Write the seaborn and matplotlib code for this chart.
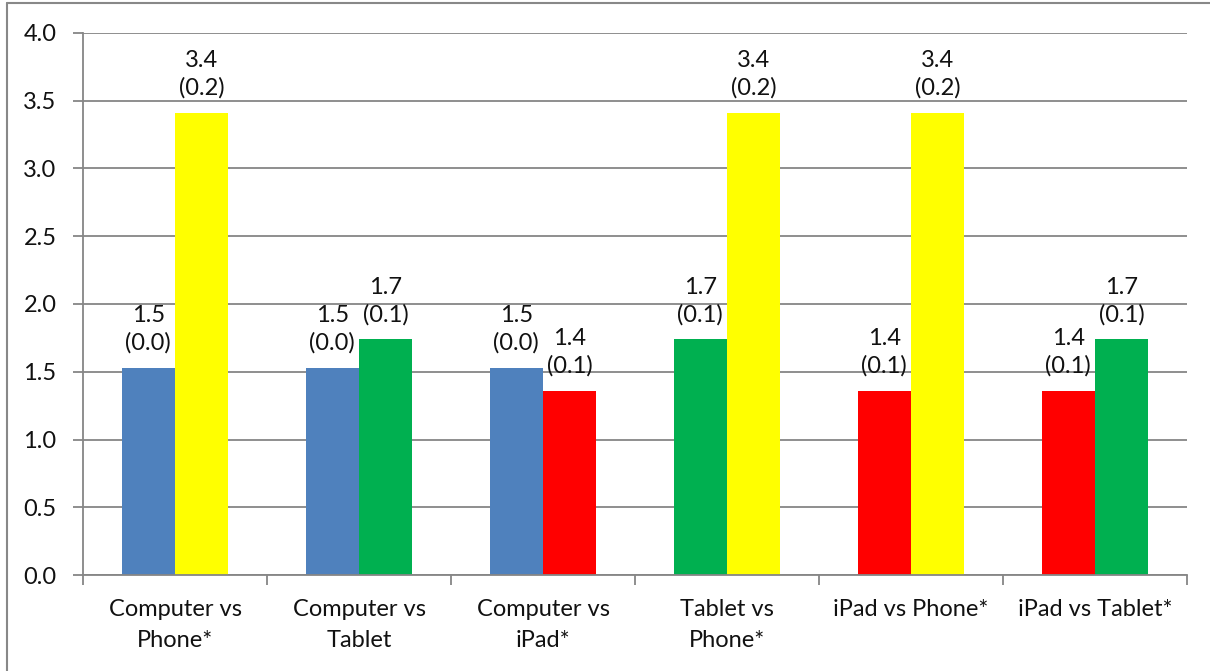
import matplotlib
matplotlib.use("Agg")
import matplotlib.pyplot as plt
import matplotlib.lines as mlines
import pandas as pd
import seaborn as sns

# group labels and the two devices compared in each group
groups = ["Computer vs\nPhone*", "Computer vs\nTablet", "Computer vs\niPad*",
          "Tablet vs\nPhone*", "iPad vs Phone*", "iPad vs Tablet*"]
first_dev = ["Computer", "Computer", "Computer", "Tablet", "iPad", "iPad"]
second_dev = ["Phone", "Tablet", "iPad", "Phone", "Phone", "Tablet"]

# mean and (standard error) per device
devices = ["Computer", "Tablet", "iPad", "Phone"]
means = [1.53, 1.74, 1.36, 3.41]
errors = [0.0, 0.1, 0.1, 0.2]
colors = ["#4F81BD", "#00B050", "#FF0000", "#FFFF00"]

mean_of = dict(zip(devices, means))
err_of = dict(zip(devices, errors))
col_of = dict(zip(devices, colors))

rows = []
for g, a, b in zip(groups, first_dev, second_dev):
    rows.append({"group": g, "slot": "first", "device": a, "value": mean_of[a]})
    rows.append({"group": g, "slot": "second", "device": b, "value": mean_of[b]})
df = pd.DataFrame(rows)

sns.set_style("white")
plt.rcParams["font.family"] = ["Lato", "DejaVu Sans"]
plt.rcParams["xtick.bottom"] = True
plt.rcParams["ytick.left"] = True
plt.rcParams["xtick.minor.visible"] = False

fs = 17

fig = plt.figure(figsize=(12.1, 6.71), dpi=100)
ax = fig.add_axes([0.0686, 0.143, 0.9124, 0.808])

sns.barplot(data=df, x="group", y="value", hue="slot", order=groups,
            hue_order=["first", "second"], width=0.58, palette=["#999999", "#999999"],
            errorbar=None, legend=False, ax=ax, saturation=1)

for container, devs in zip(ax.containers, [first_dev, second_dev]):
    for patch, d in zip(container.patches, devs):
        patch.set_facecolor(col_of[d])
        patch.set_edgecolor("none")
        patch.set_linewidth(0)
        x = patch.get_x() + patch.get_width() / 2
        h = patch.get_height()
        ax.annotate(f"{mean_of[d]:.1f}\n({err_of[d]:.1f})", (x, h),
                    xytext=(0, 10), textcoords="offset points",
                    ha="center", va="bottom", fontsize=fs, linespacing=1.35,
                    color="#111111")

ax.set_ylim(0, 4.0)
ax.set_xlim(-0.5, len(groups) - 0.5)
ax.set_yticks([i * 0.5 for i in range(9)])
ax.set_yticklabels([f"{i * 0.5:.1f}" for i in range(9)])
ax.set_xlabel("")
ax.set_ylabel("")

ax.set_axisbelow(True)
ax.yaxis.grid(True, color="#868686", linewidth=1.3)
ax.xaxis.grid(False)

ax.set_xticks([i - 0.5 for i in range(len(groups) + 1)], minor=True)
ax.tick_params(axis="x", which="major", length=0, pad=17, labelsize=fs,
               labelcolor="#111111")
for lbl in ax.get_xticklabels():
    lbl.set_linespacing(1.6)
ax.tick_params(axis="x", which="minor", length=7, width=1.3, color="#868686",
               direction="out", bottom=True)
ax.tick_params(axis="y", which="major", length=7, width=1.3, color="#868686",
               direction="out", pad=12, labelsize=fs, left=True, labelcolor="#111111")

for side in ["top", "right"]:
    ax.spines[side].set_visible(False)
for side in ["left", "bottom"]:
    ax.spines[side].set_visible(True)
    ax.spines[side].set_color("#868686")
    ax.spines[side].set_linewidth(1.3)

# outer chart frame (only left and top edges visible in the reference)
fig.add_artist(mlines.Line2D([0.006, 0.006], [0, 0.996], color="#888888", linewidth=1.5))
fig.add_artist(mlines.Line2D([0.006, 1], [0.996, 0.996], color="#888888", linewidth=1.5))

fig.savefig("out.png", dpi=100)
